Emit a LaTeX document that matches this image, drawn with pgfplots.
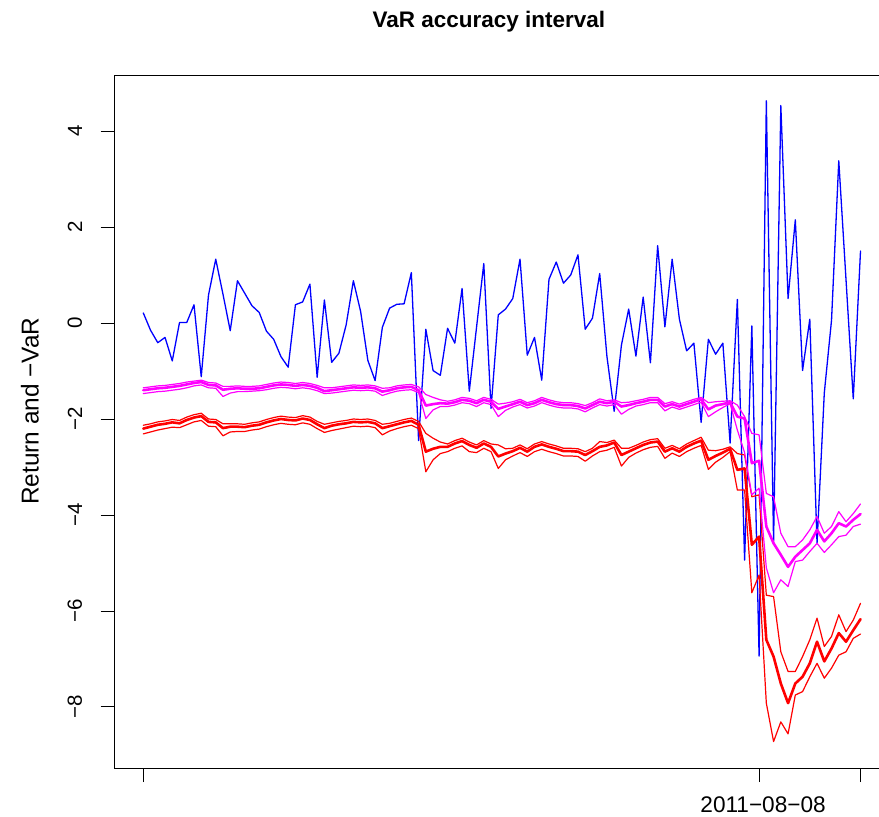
\documentclass[border=0pt]{standalone}
\usepackage{pgfplots}
\pgfplotsset{compat=1.18}
\usepackage{pgfplotstable}
\usepackage{fontspec}
\setmainfont{Liberation Sans}

\pgfplotstableread{
i ret m mu ml r ru rl
0 0.21 -1.40 -1.35 -1.47 -2.20 -2.13 -2.31
1 -0.15 -1.38 -1.33 -1.45 -2.16 -2.10 -2.27
2 -0.41 -1.36 -1.31 -1.43 -2.12 -2.06 -2.23
3 -0.30 -1.35 -1.30 -1.42 -2.10 -2.04 -2.20
4 -0.79 -1.33 -1.28 -1.40 -2.07 -2.01 -2.17
5 0.01 -1.31 -1.26 -1.38 -2.09 -2.03 -2.18
6 0.01 -1.28 -1.23 -1.35 -2.02 -1.96 -2.12
7 0.38 -1.25 -1.21 -1.31 -1.97 -1.91 -2.06
8 -1.12 -1.23 -1.19 -1.29 -1.94 -1.88 -2.03
9 0.58 -1.29 -1.24 -1.35 -2.06 -2.00 -2.15
10 1.33 -1.30 -1.25 -1.36 -2.07 -2.01 -2.16
11 0.60 -1.39 -1.32 -1.53 -2.19 -2.10 -2.35
12 -0.16 -1.37 -1.32 -1.46 -2.16 -2.10 -2.27
13 0.88 -1.36 -1.31 -1.43 -2.16 -2.10 -2.26
14 0.62 -1.37 -1.32 -1.43 -2.17 -2.11 -2.26
15 0.36 -1.37 -1.32 -1.42 -2.14 -2.08 -2.23
16 0.22 -1.36 -1.31 -1.41 -2.12 -2.06 -2.21
17 -0.17 -1.33 -1.28 -1.39 -2.07 -2.01 -2.16
18 -0.34 -1.30 -1.25 -1.36 -2.03 -1.97 -2.12
19 -0.70 -1.28 -1.23 -1.34 -2.00 -1.94 -2.09
20 -0.92 -1.29 -1.24 -1.35 -2.02 -1.96 -2.11
21 0.38 -1.31 -1.26 -1.37 -2.03 -1.97 -2.12
22 0.44 -1.29 -1.24 -1.35 -1.99 -1.93 -2.08
23 0.81 -1.31 -1.26 -1.37 -2.02 -1.96 -2.11
24 -1.13 -1.35 -1.30 -1.41 -2.11 -2.05 -2.20
25 0.48 -1.42 -1.35 -1.47 -2.19 -2.11 -2.28
26 -0.82 -1.40 -1.35 -1.46 -2.14 -2.08 -2.24
27 -0.63 -1.38 -1.33 -1.44 -2.11 -2.05 -2.21
28 -0.04 -1.36 -1.31 -1.42 -2.09 -2.03 -2.18
29 0.88 -1.34 -1.29 -1.40 -2.06 -2.00 -2.15
30 0.24 -1.35 -1.30 -1.41 -2.07 -2.01 -2.16
31 -0.78 -1.34 -1.29 -1.40 -2.06 -2.00 -2.15
32 -1.20 -1.36 -1.31 -1.42 -2.09 -2.03 -2.18
33 -0.09 -1.43 -1.36 -1.51 -2.19 -2.11 -2.33
34 0.31 -1.40 -1.35 -1.46 -2.15 -2.09 -2.25
35 0.39 -1.36 -1.31 -1.42 -2.11 -2.05 -2.20
36 0.40 -1.34 -1.29 -1.40 -2.07 -2.01 -2.16
37 1.05 -1.33 -1.28 -1.39 -2.04 -1.98 -2.13
38 -2.45 -1.40 -1.33 -1.45 -2.12 -2.05 -2.20
39 -0.13 -1.72 -1.49 -1.99 -2.68 -2.30 -3.10
40 -0.99 -1.69 -1.55 -1.81 -2.62 -2.40 -2.85
41 -1.09 -1.67 -1.60 -1.74 -2.58 -2.48 -2.72
42 -0.11 -1.68 -1.63 -1.74 -2.58 -2.52 -2.68
43 -0.42 -1.65 -1.60 -1.71 -2.51 -2.45 -2.61
44 0.72 -1.60 -1.55 -1.66 -2.46 -2.40 -2.56
45 -1.42 -1.62 -1.57 -1.68 -2.54 -2.48 -2.68
46 -0.09 -1.67 -1.62 -1.74 -2.60 -2.54 -2.70
47 1.24 -1.60 -1.55 -1.66 -2.51 -2.45 -2.61
48 -1.78 -1.64 -1.59 -1.70 -2.58 -2.52 -2.68
49 0.17 -1.79 -1.69 -1.95 -2.78 -2.54 -3.03
50 0.29 -1.74 -1.67 -1.82 -2.72 -2.62 -2.85
51 0.51 -1.69 -1.64 -1.75 -2.67 -2.61 -2.77
52 1.33 -1.64 -1.59 -1.70 -2.60 -2.54 -2.70
53 -0.67 -1.71 -1.66 -1.77 -2.68 -2.62 -2.78
54 -0.30 -1.67 -1.62 -1.73 -2.58 -2.52 -2.68
55 -1.19 -1.60 -1.55 -1.66 -2.53 -2.47 -2.63
56 0.91 -1.65 -1.60 -1.71 -2.58 -2.52 -2.68
57 1.27 -1.69 -1.64 -1.75 -2.62 -2.56 -2.72
58 0.83 -1.71 -1.66 -1.77 -2.67 -2.61 -2.77
59 1.00 -1.71 -1.66 -1.77 -2.67 -2.61 -2.77
60 1.42 -1.73 -1.68 -1.79 -2.68 -2.62 -2.78
61 -0.13 -1.78 -1.72 -1.85 -2.75 -2.68 -2.88
62 0.10 -1.71 -1.66 -1.77 -2.67 -2.61 -2.77
63 1.03 -1.64 -1.58 -1.70 -2.58 -2.47 -2.68
64 -0.70 -1.67 -1.62 -1.73 -2.55 -2.49 -2.65
65 -1.84 -1.64 -1.60 -1.70 -2.49 -2.44 -2.59
66 -0.46 -1.74 -1.66 -1.90 -2.75 -2.61 -2.98
67 0.29 -1.71 -1.65 -1.80 -2.68 -2.61 -2.80
68 -0.69 -1.67 -1.62 -1.73 -2.61 -2.55 -2.71
69 0.54 -1.64 -1.59 -1.70 -2.54 -2.48 -2.64
70 -0.83 -1.60 -1.55 -1.66 -2.49 -2.43 -2.59
71 1.61 -1.60 -1.55 -1.66 -2.47 -2.41 -2.57
72 -0.08 -1.74 -1.68 -1.83 -2.68 -2.61 -2.82
73 1.33 -1.69 -1.64 -1.75 -2.61 -2.55 -2.71
74 0.08 -1.74 -1.69 -1.80 -2.68 -2.62 -2.78
75 -0.58 -1.69 -1.64 -1.75 -2.58 -2.52 -2.68
76 -0.42 -1.64 -1.59 -1.70 -2.51 -2.45 -2.61
77 -2.07 -1.59 -1.55 -1.65 -2.45 -2.38 -2.55
78 -0.34 -1.80 -1.66 -1.95 -2.85 -2.65 -3.05
79 -0.65 -1.72 -1.64 -1.85 -2.77 -2.66 -2.90
80 -0.42 -1.69 -1.63 -1.76 -2.70 -2.63 -2.80
81 -2.50 -1.65 -1.62 -1.68 -2.62 -2.58 -2.68
82 0.49 -1.95 -1.71 -2.23 -3.06 -2.72 -3.48
83 -4.94 -1.99 -1.95 -2.70 -3.03 -2.75 -3.48
84 -0.06 -2.92 -2.30 -3.58 -4.62 -3.62 -5.62
85 -6.94 -2.87 -2.33 -3.44 -4.45 -3.58 -5.25
86 4.63 -4.24 -3.55 -5.10 -6.60 -5.67 -7.92
87 -4.56 -4.59 -3.62 -5.62 -6.95 -5.70 -8.72
88 4.53 -4.83 -4.38 -5.35 -7.51 -6.85 -8.31
89 0.51 -5.08 -4.66 -5.49 -7.92 -7.26 -8.56
90 2.15 -4.87 -4.66 -4.97 -7.51 -7.26 -7.75
91 -0.99 -4.73 -4.52 -4.94 -7.37 -6.95 -7.68
92 0.08 -4.59 -4.31 -4.76 -7.09 -6.60 -7.37
93 -4.59 -4.31 -4.03 -4.59 -6.64 -6.15 -7.09
94 -1.46 -4.55 -4.38 -4.78 -7.05 -6.74 -7.40
95 0.06 -4.38 -4.24 -4.62 -6.78 -6.53 -7.19
96 3.38 -4.17 -3.93 -4.45 -6.46 -6.08 -6.92
97 0.90 -4.24 -4.14 -4.42 -6.64 -6.43 -6.85
98 -1.58 -4.10 -3.97 -4.24 -6.40 -6.19 -6.57
99 1.50 -3.98 -3.77 -4.19 -6.17 -5.84 -6.48
}\data

\definecolor{rblue}{RGB}{0,0,255}
\definecolor{rmag}{RGB}{255,0,255}
\definecolor{rred}{RGB}{255,0,0}

\begin{document}
\begin{tikzpicture}
\begin{axis}[
  at={(57.3pt,24pt)}, anchor=south west,
  scale only axis, width=387.3pt, height=346.5pt,
  xmin=-3.96, xmax=102.96, ymin=-9.271, ymax=5.1667,
  axis line style={line width=0.5pt, black},
  tick style={line width=0.5pt, black},
  tick align=outside, xtick pos=bottom, ytick pos=left,
  major tick length=7pt,
  xtick={0,85,99}, xticklabels={,2011−08−08,},
  ytick={-8,-6,-4,-2,0,2,4}, yticklabels={−8,−6,−4,−2,0,2,4},
  ticklabel style={font=\fontsize{10.25}{12}\selectfont, inner sep=0pt},
  xticklabel style={anchor=north, font=\fontsize{11.3}{13}\selectfont, xshift=2pt},
  yticklabel style={rotate=90, anchor=south},
  xticklabel shift=7pt, yticklabel shift=9pt,
  title={VaR accuracy interval},
  title style={font=\bfseries\fontsize{11.25}{13}\selectfont, at={(axis description cs:0.4833,1)}, anchor=base, yshift=18pt},
  ylabel={Return and −VaR},
  ylabel style={font=\fontsize{12.2}{14}\selectfont, at={(axis description cs:-0.1092,0.515)}, anchor=center, rotate=0},
  clip=true,
  every axis plot/.append style={line join=round, line cap=round},
]
\addplot[rblue, line width=0.65pt] table[x=i, y=ret] {\data};
\addplot[rred, line width=0.6pt] table[x=i, y=ru] {\data};
\addplot[rred, line width=0.6pt] table[x=i, y=rl] {\data};
\addplot[rred, line width=1.3pt] table[x=i, y=r] {\data};
\addplot[rmag, line width=0.6pt] table[x=i, y=mu] {\data};
\addplot[rmag, line width=0.6pt] table[x=i, y=ml] {\data};
\addplot[rmag, line width=1.3pt] table[x=i, y=m] {\data};
\end{axis}
\pgfresetboundingbox
\path[use as bounding box] (0,0) rectangle (439.5pt,408pt);
\end{tikzpicture}
\end{document}
